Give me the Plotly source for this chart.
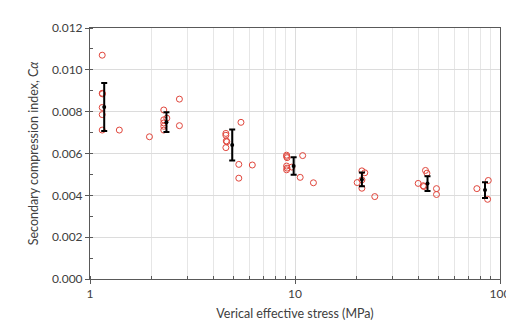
import plotly.graph_objects as go

# Individual measurements
stress_x = [1.147, 1.147, 1.15, 1.147, 1.147, 1.147, 1.39, 1.95,
            2.29, 2.29, 2.29, 2.29, 2.29, 2.37, 2.73, 2.73,
            4.6, 4.6, 4.62, 4.65, 4.6, 5.45, 5.32, 6.19, 5.32,
            9.1, 9.1, 9.15, 9.1, 9.15, 9.1, 9.65, 10.9, 10.6, 12.3,
            21.2, 21.9, 20.1, 21.2, 21.2, 24.5,
            43.3, 44.0, 39.9, 42.5, 42.2, 49.0, 49.0,
            77.1, 87.7, 87.0]
calpha = [0.0107, 0.00888, 0.00885, 0.0082, 0.00786, 0.00712, 0.00712, 0.0068,
          0.00808, 0.00761, 0.00746, 0.0073, 0.00712, 0.00769, 0.0086, 0.00733,
          0.00696, 0.00687, 0.0066, 0.00656, 0.00628, 0.00749, 0.00548, 0.00545, 0.00482,
          0.00592, 0.00586, 0.0058, 0.0054, 0.0053, 0.00522, 0.00535, 0.0059, 0.00486, 0.0046,
          0.00517, 0.00508, 0.00461, 0.00474, 0.00434, 0.00394,
          0.00519, 0.00506, 0.00457, 0.00442, 0.00446, 0.00432, 0.00404,
          0.00432, 0.00471, 0.00381]

# Mean values with standard deviation
mean_x = [1.173, 2.36, 4.94, 9.85, 21.2, 44.3, 84.5]
mean_c = [0.00822, 0.0075, 0.00641, 0.0054, 0.00476, 0.00456, 0.00425]
sd_c = [0.00115, 0.00047, 0.00074, 0.00042, 0.00033, 0.00035, 0.00038]

x_ticks = [1, 10, 100]
x_ticklabels = ["1", "10", "100"]

font = "Lato, 'Open Sans', sans-serif"

fig = go.Figure()
fig.add_trace(go.Scatter(
    x=stress_x, y=calpha, mode="markers",
    marker=dict(symbol="circle-open", size=6, color="#e0463c", line=dict(width=1, color="#e0463c")),
    showlegend=False, hoverinfo="x+y"))
fig.add_trace(go.Scatter(
    x=mean_x, y=mean_c, mode="markers",
    marker=dict(symbol="circle", size=4, color="black"),
    error_y=dict(type="data", array=sd_c, visible=True, color="black", thickness=2, width=3),
    showlegend=False))

axis_common = dict(showline=True, linecolor="#595959", linewidth=1, mirror=True,
                   ticks="outside", ticklen=4, tickcolor="#595959", zeroline=False,
                   tickfont=dict(family=font, size=12, color="#404040"))

fig.update_xaxes(type="log", range=[0, 2], tickvals=x_ticks, ticktext=x_ticklabels,
                 showgrid=True, gridcolor="#dcdcdc", gridwidth=1,
                 minor=dict(ticks="inside", ticklen=3, tickcolor="#595959", dtick="D1",
                            showgrid=True, gridcolor="#e6e6e6", gridwidth=1),
                 title=dict(text="Verical effective stress (MPa)", font=dict(family=font, size=12.5, color="#404040"),
                            standoff=8),
                 **axis_common)
fig.update_yaxes(range=[0, 0.012], dtick=0.002, tickformat=".3f",
                 showgrid=True, gridcolor="#dcdcdc", gridwidth=1,
                 minor=dict(ticks="inside", ticklen=3, tickcolor="#595959", dtick=0.001, showgrid=False),
                 title=dict(text="Secondary compression index, C<i>α</i>", font=dict(family=font, size=12.5, color="#404040"),
                            standoff=10),
                 **axis_common)

fig.update_layout(width=514, height=322, margin=dict(l=82, r=19, t=15, b=48),
                  plot_bgcolor="white", paper_bgcolor="white")
fig.write_html("out.html")
